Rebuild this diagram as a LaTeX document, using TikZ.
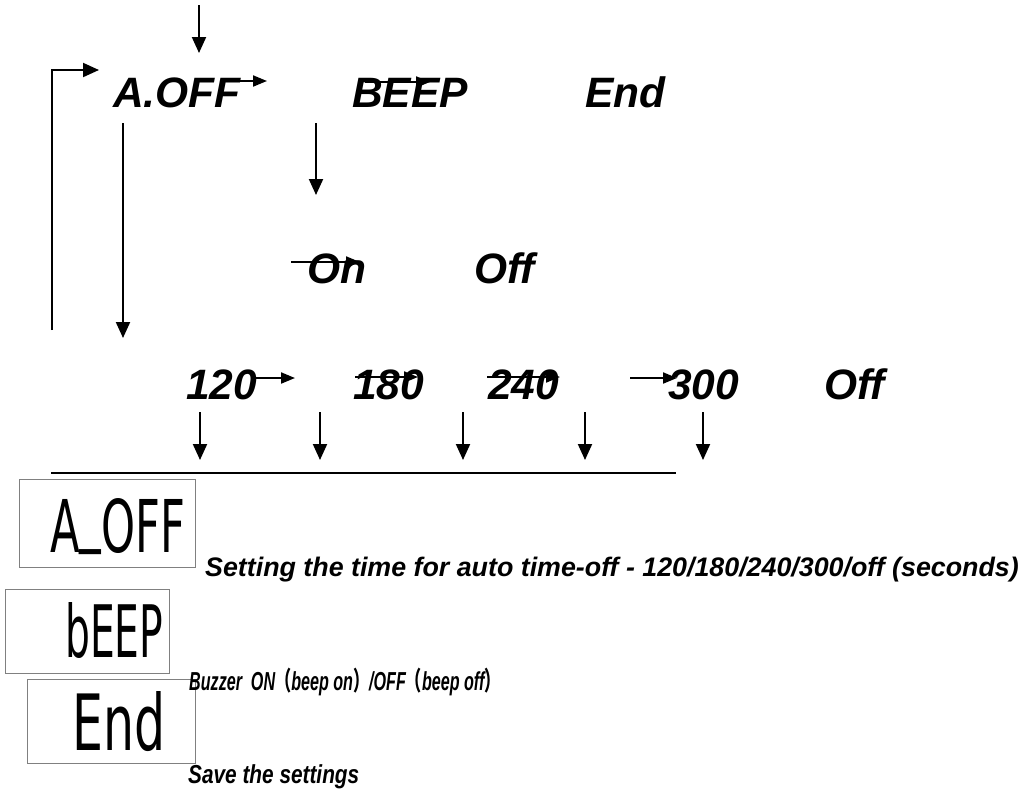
\documentclass[tikz,border=0pt]{standalone}
\usepackage{fontspec}
\setmainfont{Liberation Sans}
\newfontfamily\cjk{Noto Sans CJK SC}
\newfontfamily\lcdfont{DejaVu Sans}
\usetikzlibrary{arrows.meta}
\begin{document}
\begin{tikzpicture}[x=1pt,y=-1pt,
  big/.style={font=\fontsize{42.5}{42}\selectfont\bfseries\itshape, inner sep=0, anchor=base west},
  small/.style={font=\fontsize{26}{26}\selectfont\bfseries\itshape, inner sep=0, anchor=base west},
  arr/.style={-{Triangle[length=16pt,width=14pt]}, line width=2pt},
  sarr/.style={-{Triangle[length=14pt,width=11pt]}, line width=2pt},
  plain/.style={line width=2pt},
  lcdbox/.style={draw=gray, line width=1pt, inner sep=0, rectangle},
  lcdtxt/.style={inner sep=0, anchor=base west}
]
\useasboundingbox (0,0) rectangle (1022,807);
% main labels
\node[big] (aoff) at (113,107) {A.OFF};
\node[big] (beep) at (352,107) {BEEP};
\node[big] (end) at (585,107) {End};
\node[big] (on) at (307,283) {On};
\node[big] (off1) at (474,283) {Off};
\node[big] (n120) at (186,399) {120};
\node[big] (n180) at (353,399) {180};
\node[big] (n240) at (488,399) {240};
\node[big] (n300) at (668,399) {300};
\node[big] (off2) at (824,399) {Off};
% coordinates
\coordinate (top0) at (199,5);   \coordinate (top1) at (199,53);
\coordinate (lp0) at (52,330);   \coordinate (lp1) at (52,70);  \coordinate (lp2) at (99,70);
\coordinate (a0) at (225,81);    \coordinate (a1) at (267,81);
\coordinate (b0) at (365,82);    \coordinate (b1) at (430,82);
\coordinate (c0) at (123,123);   \coordinate (c1) at (123,338);
\coordinate (d0) at (316,123);   \coordinate (d1) at (316,195);
\coordinate (e0) at (291,262);   \coordinate (e1) at (360,262);
\coordinate (f0) at (253,378);   \coordinate (f1) at (295,378);
\coordinate (g0) at (355,377);   \coordinate (g1) at (418,377);
\coordinate (h0) at (487,377);   \coordinate (h1) at (560,377);
\coordinate (i0) at (630,378);   \coordinate (i1) at (677,378);
\coordinate (bl0) at (51,473);   \coordinate (bl1) at (676,473);
\foreach \x [count=\k] in {200,320,463,585,703}{
  \coordinate (v\k a) at (\x,412); \coordinate (v\k b) at (\x,460);
  \draw[arr] (v\k a) -- (v\k b);
}
% connectors
\draw[arr] (top0) -- (top1);
\draw[arr] (lp0) -- (lp1) -- (lp2);
\draw[sarr] (a0) -- (a1);
\draw[sarr] (b0) -- (b1);
\draw[arr] (c0) -- (c1);
\draw[arr] (d0) -- (d1);
\draw[sarr] (e0) -- (e1);
\draw[sarr] (f0) -- (f1);
\draw[sarr] (g0) -- (g1);
\draw[sarr] (h0) -- (h1);
\draw[sarr] (i0) -- (i1);
\draw[plain] (bl0) -- (bl1);
% LCD boxes
\node[lcdbox, minimum width=176pt, minimum height=88pt] (box1) at (107,523) {};
\node[lcdbox, minimum width=164pt, minimum height=84pt] (box2) at (87,631) {};
\node[lcdbox, minimum width=168pt, minimum height=84pt] (box3) at (111,721) {};
\node[lcdtxt] (lcd1) at (50,552) {\resizebox{135pt}{54pt}{\lcdfont A\raisebox{0.2em}{\_}OFF}};
\node[lcdtxt] (lcd2) at (65,657) {\resizebox{98pt}{55pt}{\lcdfont bEEP}};
\node[lcdtxt] (lcd3) at (72,750) {\resizebox{93pt}{59pt}{\lcdfont End}};
% descriptions
\node[small, font=\fontsize{26.8}{27}\selectfont\bfseries\itshape] (desc1) at (205,576) {Setting the time for auto time-off - 120/180/240/300/off (seconds)};
\node[small] (desc2) at (189,690) {\scalebox{0.62}[1]{Buzzer\ \ ON{\cjk （}beep on{\cjk ）}/OFF{\cjk （}beep off{\cjk ）}}};
\node[small] (desc3) at (188,783) {\scalebox{0.8}[1]{Save the settings}};
\end{tikzpicture}
\end{document}
